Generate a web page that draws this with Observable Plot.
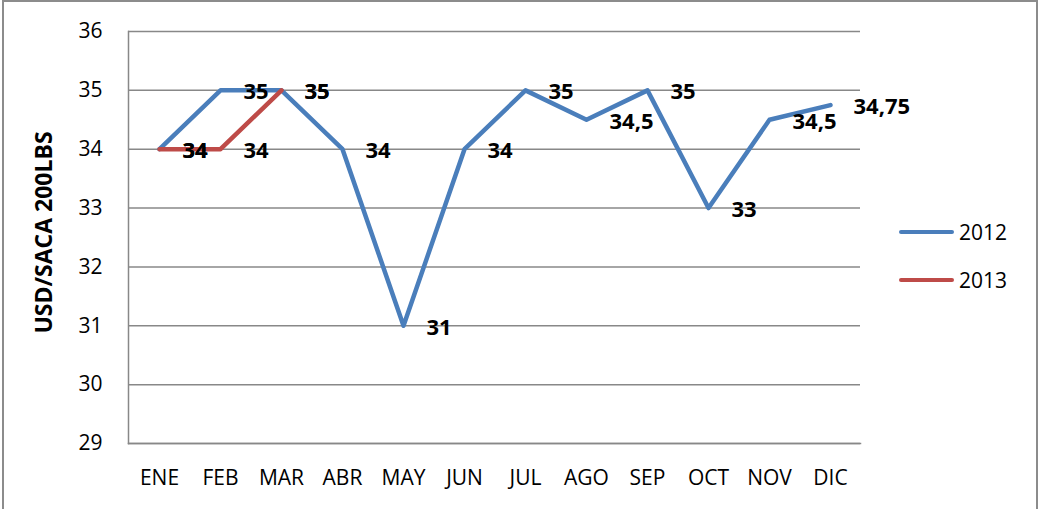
<!DOCTYPE html>
<html>
<head>
<meta charset="utf-8">
<script src="https://cdn.jsdelivr.net/npm/d3@7"></script>
<script src="https://cdn.jsdelivr.net/npm/@observablehq/plot@0.6"></script>
<style>
  body { margin: 0; background: #fff; }
  #wrap { position: relative; width: 1039px; height: 509px; overflow: hidden; font-family: "Open Sans", sans-serif; }
  #border { position: absolute; left: 2px; top: 0px; width: 1036px; height: 540px; border: 2px solid #8c8c8c; box-sizing: border-box; pointer-events: none; }
  #chart { position: absolute; left: 0; top: 0; }
  .leg { position: absolute; left: 899px; display: flex; align-items: center; font-size: 21px; color: #000; }
  .leg .sw { width: 55px; height: 4.5px; border-radius: 3px; margin-right: 5px; }
</style>
</head>
<body>
<div id="wrap">
  <div id="chart"></div>
  <div id="legend"></div>
  <div id="border"></div>
</div>
<script>
const months = ["ENE","FEB","MAR","ABR","MAY","JUN","JUL","AGO","SEP","OCT","NOV","DIC"];
const values2012 = [34, 35, 35, 34, 31, 34, 35, 34.5, 35, 33, 34.5, 34.75];
const values2013 = [34, 34, 35];
const seriesNames = ["2012", "2013"];
const seriesColors = ["#4a7ebb", "#be4b48"];
const yTicks = [29, 30, 31, 32, 33, 34, 35, 36];
const yTitle = "USD/SACA 200LBS";

const data = [
  ...values2012.map((v, i) => ({month: months[i], value: v, series: "2012"})),
  ...values2013.map((v, i) => ({month: months[i], value: v, series: "2013"}))
];
const fmt = v => String(v).replace(".", ",");

const chart = Plot.plot({
  width: 1039,
  height: 509,
  marginLeft: 128,
  marginRight: 179,
  marginTop: 31,
  marginBottom: 66,
  style: {fontFamily: "'Open Sans', sans-serif", fontSize: "21px", color: "#000", background: "transparent", overflow: "visible"},
  x: {type: "point", domain: months, padding: 0.5, label: null, tickSize: 0, tickPadding: 27},
  y: {domain: [29, 36], ticks: yTicks, tickFormat: d => String(d), tickSize: 0, tickPadding: 26, label: null},
  color: {domain: seriesNames, range: seriesColors},
  marks: [
    Plot.ruleY(yTicks, {stroke: "#888", strokeWidth: 1.5}),
    Plot.frame({anchor: "left", stroke: "#888", strokeWidth: 1.5}),
    Plot.frame({anchor: "bottom", stroke: "#888", strokeWidth: 1.5}),
    Plot.line(data, {x: "month", y: "value", z: "series", stroke: "series", strokeWidth: 4.5, strokeLinejoin: "round", strokeLinecap: "round"}),
    Plot.text(data, {x: "month", y: "value", text: d => fmt(d.value), textAnchor: "start", dx: 23, dy: 2, fontWeight: "bold", fontSize: 22, fill: "#000"}),
    Plot.text([yTitle], {frameAnchor: "left", textAnchor: "middle", lineAnchor: "middle", dx: -84, dy: -5, rotate: -90, fontWeight: "bold", fontSize: 23, fill: "#000"})
  ]
});
document.getElementById("chart").appendChild(chart);

const legend = document.getElementById("legend");
seriesNames.forEach((name, i) => {
  const row = document.createElement("div");
  row.className = "leg";
  row.style.top = (217 + i * 48) + "px";
  row.style.height = "30px";
  const sw = document.createElement("div");
  sw.className = "sw";
  sw.style.background = seriesColors[i];
  const lab = document.createElement("span");
  lab.textContent = name;
  row.appendChild(sw);
  row.appendChild(lab);
  legend.appendChild(row);
});
</script>
</body>
</html>
